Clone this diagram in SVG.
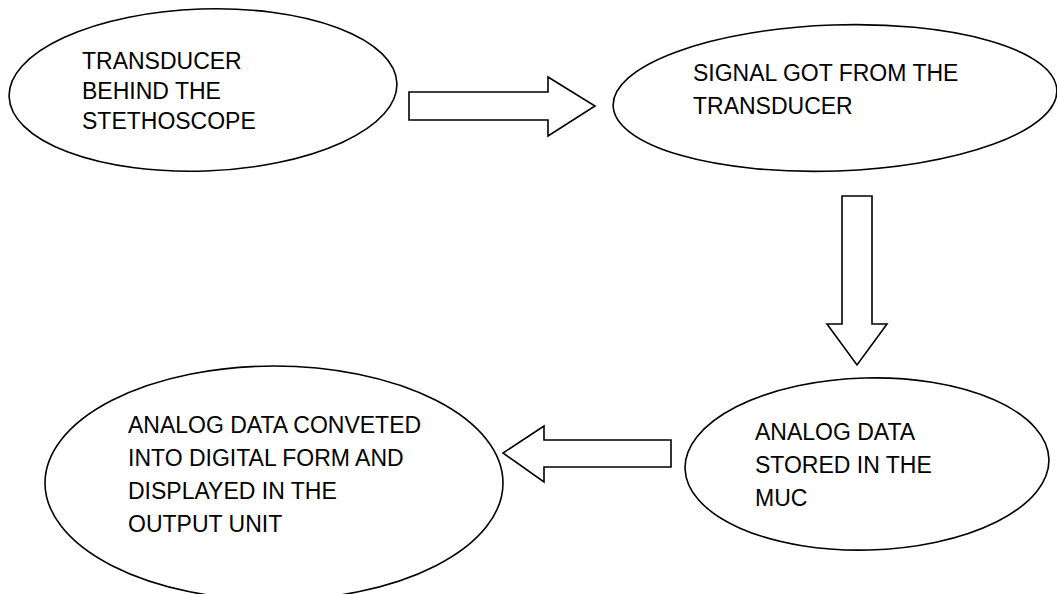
<svg xmlns="http://www.w3.org/2000/svg" width="1057" height="594" viewBox="0 0 1057 594">
<style>
.shape{fill:#fff;stroke:#000;stroke-width:1.6}
.lbl{font-family:"Liberation Sans",Arial,sans-serif;font-size:23px;fill:#000}
</style>
<rect width="1057" height="594" fill="#fff"/>
<g id="node-transducer">
<ellipse class="shape" cx="203" cy="90" rx="194" ry="81" transform="rotate(-2 203 90)"/>
<text class="lbl" x="82" y="69">TRANSDUCER</text>
<text class="lbl" x="82" y="99">BEHIND THE</text>
<text class="lbl" x="82" y="129">STETHOSCOPE</text>
</g>
<g id="node-signal">
<ellipse class="shape" cx="835" cy="98" rx="222" ry="73" transform="rotate(-2 835 98)"/>
<text class="lbl" x="693" y="81">SIGNAL GOT FROM THE</text>
<text class="lbl" x="693" y="114">TRANSDUCER</text>
</g>
<g id="node-muc">
<ellipse class="shape" cx="867" cy="464" rx="182" ry="86" transform="rotate(-1.5 867 464)"/>
<text class="lbl" x="755" y="440">ANALOG DATA</text>
<text class="lbl" x="755" y="473">STORED IN THE</text>
<text class="lbl" x="755" y="506">MUC</text>
</g>
<g id="node-output">
<ellipse class="shape" cx="274" cy="483" rx="229" ry="117"/>
<text class="lbl" x="128" y="433">ANALOG DATA CONVETED</text>
<text class="lbl" x="128" y="466">INTO DIGITAL FORM AND</text>
<text class="lbl" x="128" y="499">DISPLAYED IN THE</text>
<text class="lbl" x="128" y="532">OUTPUT UNIT</text>
</g>
<g id="connectors">
<polygon class="shape" points="409,92 548,92 548,77 595,106 548,136 548,120 409,120"/>
<polygon class="shape" points="842,196 872,196 872,324 887,324 857,365 827,324 842,324"/>
<polygon class="shape" points="671,440 544,440 544,426 503,453 544,482 544,467 671,467"/>
</g>
</svg>
